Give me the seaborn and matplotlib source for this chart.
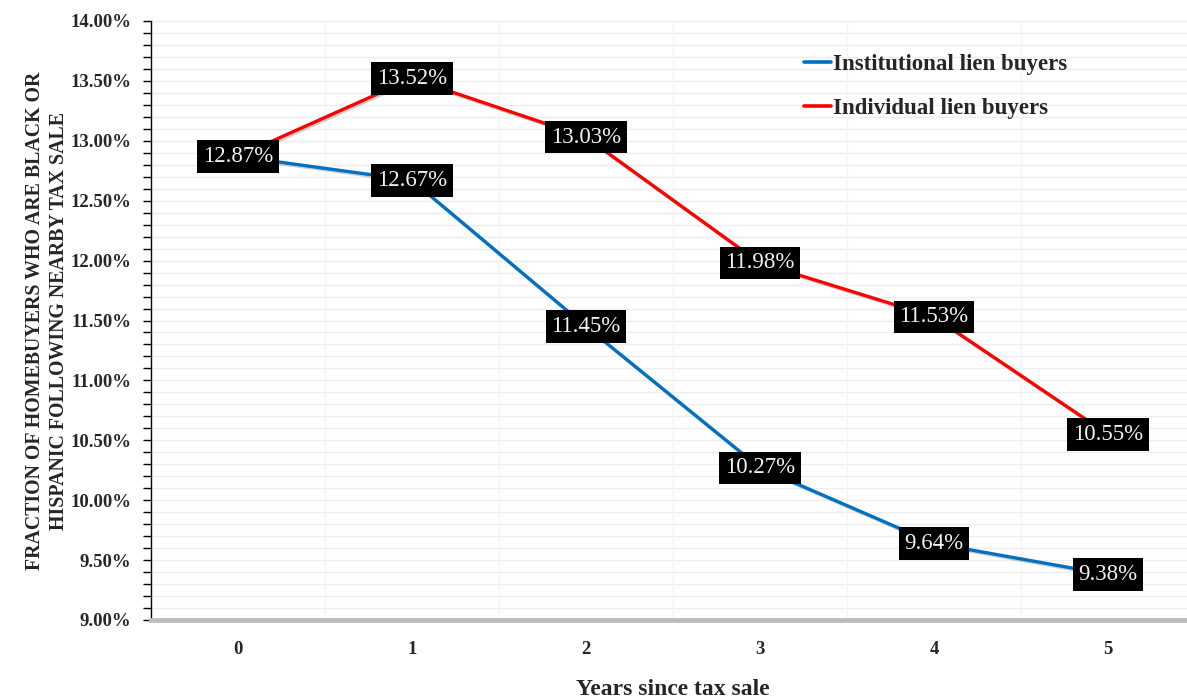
import matplotlib
matplotlib.use("Agg")
import matplotlib.pyplot as plt
import matplotlib.patheffects as pe
from matplotlib.ticker import MultipleLocator, FuncFormatter
import seaborn as sns
import pandas as pd

# Share of homebuyers who are Black or Hispanic, by years since the nearby tax sale (%)
years = [0, 1, 2, 3, 4, 5]
institutional = [12.87, 12.67, 11.45, 10.27, 9.64, 9.38]
individual = [12.87, 13.52, 13.03, 11.98, 11.53, 10.55]
series_names = ["Institutional lien buyers", "Individual lien buyers"]
series_colors = ["#0070C0", "#FF0000"]

df = pd.concat([
    pd.DataFrame({"year": years, "value": institutional, "series": series_names[0]}),
    pd.DataFrame({"year": years, "value": individual, "series": series_names[1]}),
])

sns.set_theme(style="white")
plt.rcParams["font.family"] = ["Liberation Serif", "DejaVu Serif"]

fig = plt.figure(figsize=(11.87, 6.98), dpi=100)
W, H = 1187, 698
ax = fig.add_axes([151 / W, (H - 620) / H, (1195 - 151) / W, (620 - 21) / H])

shadow = [pe.SimpleLineShadow(offset=(1.2, -1.2), shadow_color="#777777", alpha=0.35), pe.Normal()]
sns.lineplot(data=df, x="year", y="value", hue="series", hue_order=series_names,
             palette=series_colors, linewidth=2.4, ax=ax, legend=True, zorder=3)
for line in ax.lines:
    line.set_path_effects(shadow)

# value labels in black boxes
for vals in (institutional, individual):
    for x, v in zip(years, vals):
        ax.text(x, v, f"{v:.2f}%", ha="center", va="center", fontsize=16.5,
                color="#f2f2f2", zorder=5,
                bbox=dict(boxstyle="square,pad=0.25", fc="black", ec="none"))

ax.set_xlim(-0.5, 5.5)
ax.set_ylim(9.0, 14.0)
ax.set_xticks(years)
ax.set_xticklabels([str(y) for y in years])
ax.yaxis.set_major_locator(MultipleLocator(0.5))
ax.yaxis.set_minor_locator(MultipleLocator(0.1))
ax.yaxis.set_major_formatter(FuncFormatter(lambda v, p: f"{v:.2f}%"))

# light horizontal grid at every 0.1 and faint category dividers
for yv in [9.0 + 0.1 * i for i in range(1, 51)]:
    ax.axhline(yv, color="#ededed", lw=1.0, zorder=0)
for xv in [0.5, 1.5, 2.5, 3.5, 4.5]:
    ax.axvline(xv, color="#f4f4f4", lw=1.0, zorder=0)

for s in ("top", "right"):
    ax.spines[s].set_visible(False)
ax.spines["left"].set_color("black")
ax.spines["left"].set_linewidth(1.0)
ax.spines["bottom"].set_color("#bdbdbd")
ax.spines["bottom"].set_linewidth(3.5)
ax.spines["bottom"].set_zorder(4)

ax.tick_params(axis="y", which="both", direction="out", length=6, width=1.0,
               color="black", left=True, labelsize=13.5, pad=8)
ax.tick_params(axis="x", which="both", length=0, labelsize=13.5, pad=15)
for lab in ax.get_yticklabels() + ax.get_xticklabels():
    lab.set_fontweight("bold")

ax.set_xlabel("Years since tax sale", fontsize=17, fontweight="bold", labelpad=15)
ax.set_ylabel("FRACTION OF HOMEBUYERS WHO ARE BLACK OR\nHISPANIC FOLLOWING NEARBY TAX SALE",
              fontsize=14.3, fontweight="bold", labelpad=1, linespacing=1.3)

leg = ax.legend(loc="upper left", bbox_to_anchor=(632 / 1044, 0.98), frameon=False,
                handlelength=1.2, handletextpad=0.1, labelspacing=1.0,
                prop={"size": 16.5, "weight": "bold"})
for h in leg.get_lines():
    h.set_linewidth(2.6)
    h.set_path_effects([])

fig.savefig("out.png", dpi=100)
